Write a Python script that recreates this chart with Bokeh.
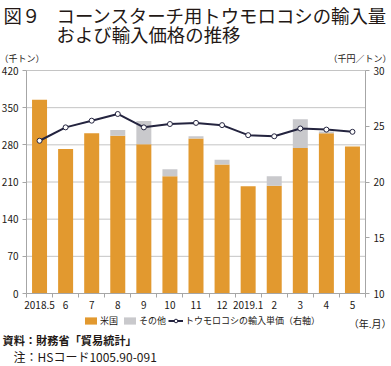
from bokeh.plotting import figure
from bokeh.models import (Range1d, LinearAxis, FixedTicker, Label, Legend, LegendItem,
                          ColumnDataSource)
from bokeh.embed import file_html
from bokeh.resources import INLINE

# ---- data ----
months = ["2018.5", "6", "7", "8", "9", "10", "11", "12", "2019.1", "2", "3", "4", "5"]
us = [365, 272, 302, 297, 281, 221, 292, 243, 202, 203, 274, 302, 277]
other = [0, 0, 0, 11, 44, 13, 4, 9, 0, 18, 54, 3, 0]
price = [23.7, 24.9, 25.5, 26.1, 24.9, 25.2, 25.3, 25.1, 24.2, 24.1, 24.8, 24.7, 24.5]
left_ticks = [0, 70, 140, 210, 280, 350, 420]
right_ticks = [10, 15, 20, 25, 30]
YMAX = 420
PMIN, PMAX = 10, 30

FONT = "Noto Sans CJK JP"
TXT = "#231815"
ORANGE = "#E2992F"
GREY = "#C9C9CC"
NAVY = "#24243F"
AXC = "#a6a6a6"

# ---- layout (pixels inside the canvas) ----
W, H = 391, 366
CL, CR, CT, CB = 26, 365, 70, 293   # chart area
n = len(months)
sx = (CR - CL) / n
sy = (CB - CT) / YMAX
sp = (CB - CT) / (PMAX - PMIN)

p = figure(width=W, height=H, output_backend="svg", toolbar_location=None,
           x_range=Range1d(-CL / sx, n + (W - CR) / sx),
           y_range=Range1d(-(H - CB) / sy, YMAX + CT / sy),
           min_border_left=0, min_border_right=0, min_border_top=0,
           min_border_bottom=0, x_axis_location=None, y_axis_location=None)
p.extra_y_ranges = {"price": Range1d(PMIN - (H - CB) / sp, PMAX + CT / sp)}
p.outline_line_color = None
p.background_fill_color = "white"
p.border_fill_color = "white"
p.xgrid.visible = False
p.ygrid.visible = False

xs = [i + 0.5 for i in range(n)]
src = ColumnDataSource(dict(x=xs, us=us, other=other, price=price))

# horizontal grid lines (from tick values)
gl = [t for t in left_ticks if t > 0]
p.segment(x0=[0] * len(gl), x1=[n] * len(gl), y0=gl, y1=gl,
          line_color="#c4c4c4", line_width=1, level="underlay")

bars = p.vbar_stack(["us", "other"], x="x", width=0.575, source=src,
                    color=[ORANGE, GREY], line_color=None)
ln = p.line("x", "price", source=src, y_range_name="price", line_color=NAVY, line_width=2)
pts = p.scatter("x", "price", source=src, y_range_name="price", size=5,
                fill_color="white", line_color=NAVY, line_width=1)


def style_axis(ax, size="10px"):
    ax.axis_line_color = AXC
    ax.major_tick_line_color = AXC
    ax.minor_tick_line_color = AXC
    ax.major_tick_in = 0
    ax.major_tick_out = 4
    ax.minor_tick_in = 0
    ax.minor_tick_out = 0
    ax.major_label_text_font = FONT
    ax.major_label_text_font_size = size
    ax.major_label_text_color = TXT
    ax.major_label_standoff = 4


yl = LinearAxis(ticker=FixedTicker(ticks=left_ticks), fixed_location=0, bounds=(0, YMAX))
style_axis(yl)
p.add_layout(yl, "left")

yr = LinearAxis(y_range_name="price", ticker=FixedTicker(ticks=right_ticks),
                fixed_location=n, bounds=(PMIN, PMAX))
style_axis(yr)
p.add_layout(yr, "right")

xa = LinearAxis(ticker=FixedTicker(ticks=xs, minor_ticks=list(range(n + 1))),
                fixed_location=0, bounds=(0, n))
style_axis(xa)
xa.major_tick_line_color = None
xa.minor_tick_out = 4
xa.major_label_standoff = 3
xa.major_label_overrides = {x: m for x, m in zip(xs, months)}
p.add_layout(xa, "below")

legend = Legend(items=[
    LegendItem(label="米国", renderers=[bars[0]]),
    LegendItem(label="その他", renderers=[bars[1]]),
    LegendItem(label="トウモロコシの輸入単価（右軸）", renderers=[ln, pts]),
], orientation="horizontal", location=(83, H - 327),
    glyph_width=15, glyph_height=9, label_height=9, label_standoff=2,
    spacing=2, padding=0, margin=0, border_line_color=None,
    background_fill_alpha=0, label_text_font=FONT, label_text_font_size="9px",
    label_text_color=TXT)
p.add_layout(legend, "center")


def lab(text, px, py, size, align="left", weight="normal"):
    p.add_layout(Label(x=(px - CL) / sx, y=(CB - py) / sy, text=text, text_font=FONT,
                       text_font_size=size, text_color=TXT, text_align=align,
                       text_baseline="top", text_font_style=weight))


lab("図９", 3, 1.5, "18.4px")
lab("コーンスターチ用トウモロコシの輸入量", 56, 1.5, "18.4px")
lab("および輸入価格の推移", 56, 20.5, "18.4px")
lab("（千トン）", -1, 51, "9px")
lab("（千円／トン）", 391, 51, "9px", align="right")
lab("（年.月）", 391, 315, "10px", align="right")
lab("資料：財務省「貿易統計」", 2, 331.5, "11.2px", weight="bold")
lab("注：HSコード1005.90-091", 13, 347.5, "12px")

open("out.html", "w").write(file_html(p, INLINE))
